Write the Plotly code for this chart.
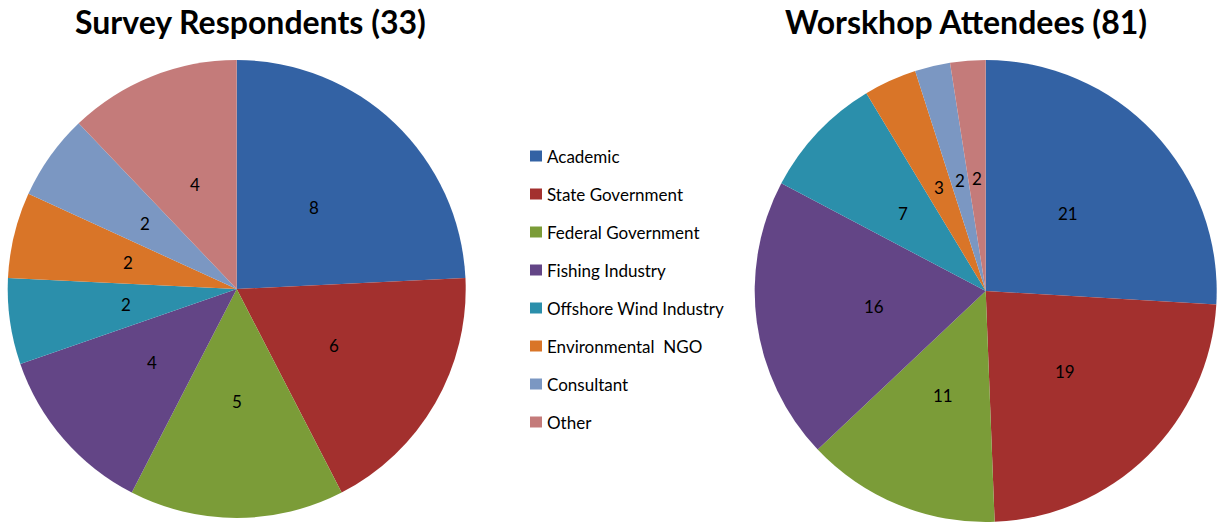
import math
import plotly.graph_objects as go

# Respondent groups and counts for each pie
categories = [
    "Academic",
    "State Government",
    "Federal Government",
    "Fishing Industry",
    "Offshore Wind Industry",
    "Environmental  NGO",
    "Consultant",
    "Other",
]
survey_counts = [8, 6, 5, 4, 2, 2, 2, 4]
workshop_counts = [21, 19, 11, 16, 7, 3, 2, 2]
survey_title = "Survey Respondents (33)"
workshop_title = "Worskhop Attendees (81)"

colors = ["#3362a4", "#a3302e", "#7b9c38", "#634586",
          "#2b8fab", "#d97528", "#7b97c2", "#c47b7a"]

W, H = 1225, 523
FONT = "Lato, 'Open Sans', sans-serif"

# pie geometry in pixels: centre x, centre y (from top), radius, title centre x
pies = [
    (survey_counts, survey_title, 236.7, 289.0, 229.0, 250),
    (workshop_counts, workshop_title, 985.7, 291.0, 231.0, 966),
]

fig = go.Figure()
annotations = []
shapes = []

for values, title, cx, cy, r, title_x in pies:
    fig.add_trace(go.Pie(
        labels=categories,
        values=values,
        sort=False,
        direction="clockwise",
        rotation=0,
        textinfo="none",
        hoverinfo="label+value",
        marker=dict(colors=colors, line=dict(width=0)),
        domain=dict(x=[(cx - r) / W, (cx + r) / W],
                    y=[1 - (cy + r) / H, 1 - (cy - r) / H]),
        showlegend=False,
    ))
    # value labels along each slice's mid-angle, at about half the radius
    total = sum(values)
    cum = 0
    for v in values:
        theta = 2 * math.pi * (cum + v / 2) / total
        cum += v
        px = cx + 0.49 * r * math.sin(theta)
        py = cy - 0.49 * r * math.cos(theta)
        annotations.append(dict(
            x=px / W, y=1 - py / H, xref="paper", yref="paper",
            text=str(v), showarrow=False, xanchor="center", yanchor="middle",
            font=dict(family=FONT, size=17, color="#000000"),
        ))
    annotations.append(dict(
        x=title_x / W, y=1 - 22 / H, xref="paper", yref="paper",
        text="<b>" + title + "</b>", showarrow=False,
        xanchor="center", yanchor="middle",
        font=dict(family=FONT, size=32, color="#000000"),
    ))

# legend: colour swatch followed by the category name
for i, (name, col) in enumerate(zip(categories, colors)):
    yc = 156 + 38 * i
    shapes.append(dict(
        type="rect", xref="paper", yref="paper",
        x0=530 / W, x1=542 / W, y0=1 - (yc + 5.5) / H, y1=1 - (yc - 5.5) / H,
        fillcolor=col, line=dict(width=0),
    ))
    annotations.append(dict(
        x=545 / W, y=1 - yc / H, xref="paper", yref="paper",
        text=name, showarrow=False, xanchor="left", yanchor="middle",
        font=dict(family=FONT, size=17, color="#000000"),
    ))

fig.update_layout(
    width=W, height=H,
    margin=dict(l=0, r=0, t=0, b=0),
    paper_bgcolor="#ffffff",
    plot_bgcolor="#ffffff",
    annotations=annotations,
    shapes=shapes,
)

fig.write_html("out.html")
